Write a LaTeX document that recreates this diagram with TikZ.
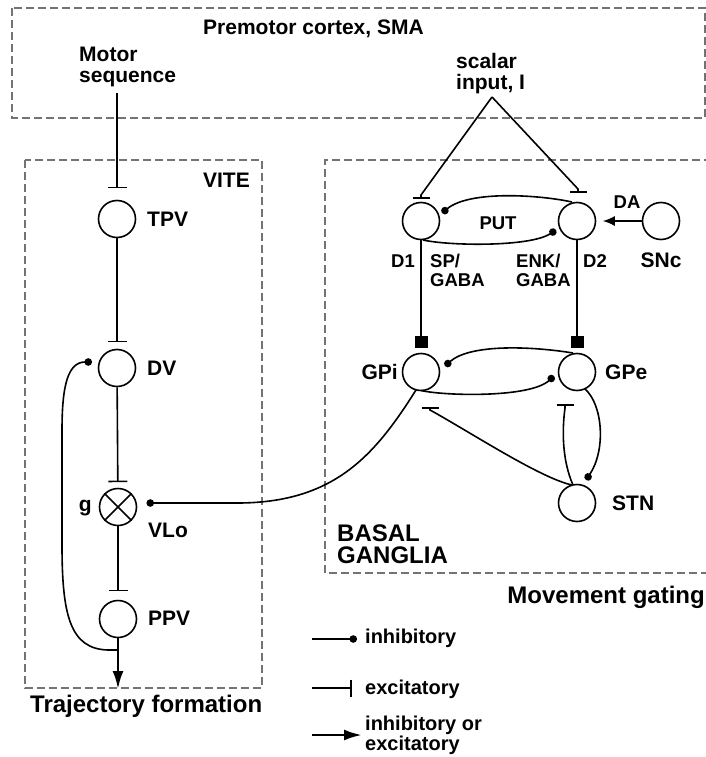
\documentclass[tikz,border=0pt]{standalone}
\usepackage{fontspec}
\setmainfont{Liberation Sans}
\usetikzlibrary{arrows.meta,calc}
\begin{document}
\begin{tikzpicture}[x=1pt,y=-1pt,
  neuron/.style={circle,draw,line width=1.6pt,minimum size=37pt,inner sep=0pt},
  lbl/.style={inner sep=0pt,font=\fontsize{21}{21}\selectfont\bfseries,align=left},
  slbl/.style={inner sep=0pt,font=\fontsize{18.5}{18.5}\selectfont\bfseries,align=left},
  ttl/.style={inner sep=0pt,font=\fontsize{24}{22}\selectfont\bfseries,align=left},
  leg/.style={inner sep=0pt,font=\fontsize{20}{20}\selectfont\bfseries,align=left},
  region/.style={draw=black!55,line width=1.5pt,dash pattern=on 8pt off 4pt},
  conn/.style={line width=1.6pt},
  exc/.style={conn,-{Bar[width=19pt,line width=1.6pt]}},
  excs/.style={conn,-{Bar[width=17pt,line width=1.6pt]}},
  inh/.style={conn,-{Circle[length=7.5pt]}},
  sqr/.style={conn,-{Square[length=12pt,width=13pt]}},
  arr/.style={line width=2.6pt,-{Latex[length=18pt,width=11pt]}},
]
\useasboundingbox (0,0) rectangle (706,757);

% regions
\draw[region] (12,8) rectangle (705,118);
\draw[region] (25,160) rectangle (262,688);
\draw[region] (712,160) -- (325,160) -- (325,573) -- (712,573);

% neurons
\node[neuron] (TPV) at (117,219) {};
\node[neuron] (DV) at (117,368) {};
\node[neuron] (VLo) at (118,507) {};
\node[neuron] (PPV) at (118,619) {};
\node[neuron] (D1) at (421,221) {};
\node[neuron] (D2) at (577,221) {};
\node[neuron] (SNc) at (661,221) {};
\node[neuron] (GPi) at (421,372) {};
\node[neuron] (GPe) at (577,372) {};
\node[neuron] (STN) at (577,503) {};
\draw[line width=1.6pt] (VLo.45) -- (VLo.225) (VLo.135) -- (VLo.315);

% labels
\node[lbl,anchor=north west] (tpremotor) at (203,20) {Premotor cortex, SMA};
\node[lbl,anchor=north west] (tmotor) at (79,47) {Motor\\sequence};
\node[lbl,anchor=north west] (tscalar) at (456,53) {scalar\\input, I};
\node[lbl,anchor=east] (tvite) at (250,180) {VITE};
\node[lbl,anchor=west] (ttpv) at (147,219) {TPV};
\node[lbl,anchor=west] (tdv) at (147,368) {DV};
\node[lbl,anchor=base east] (tg) at (92,511) {g};
\node[lbl,anchor=west] (tvlo) at (148,530) {VLo};
\node[lbl,anchor=west] (tppv) at (148,618) {PPV};
\node[ttl,anchor=base west] (ttraj) at (30,712) {Trajectory formation};
\node[slbl] (tput) at (498,223) {PUT};
\node[slbl] (tda) at (627,202) {DA};
\node[lbl] (tsnc) at (661,260) {SNc};
\node[slbl] (td1) at (403,261) {D1};
\node[slbl,anchor=north west] (tsp) at (430,254) {SP/\\GABA};
\node[slbl,anchor=north west] (tenk) at (516,254) {ENK/\\GABA};
\node[slbl,anchor=west] (td2) at (583,261) {D2};
\node[lbl,anchor=east] (tgpi) at (398,372) {GPi};
\node[lbl,anchor=west] (tgpe) at (605,372) {GPe};
\node[lbl,anchor=west] (tstn) at (612,503) {STN};
\node[ttl,anchor=north west] (tbg) at (337,525) {BASAL\\GANGLIA};
\node[ttl,anchor=base east] (tmove) at (705,603) {Movement gating};

% VITE chain
\coordinate (ms) at (117,93);
\draw[exc,shorten >=11.5pt] (ms) -- (TPV);
\draw[exc,shorten >=6.5pt] (TPV) -- (DV);
\draw[exc,shorten >=5.5pt] (DV) -- (VLo);
\draw[exc,shorten >=8.5pt] (VLo) -- (PPV);
\coordinate (out) at (118,689);
\draw[arr] (PPV) -- (out);
\coordinate (fb) at (118,650);
\draw[inh] (fb) -- (108,650) .. controls (70,649) and (62,615) .. (62,545) -- (62,430)
  .. controls (62,385) and (68,362) .. ($(DV)+(-25,-6)$);

% scalar input
\coordinate (apex) at (492,97);
\draw[excs] (apex) -- ($(D1)+(0,-26)$) -- ($(D1)+(0,-22)$);
\draw[excs] (apex) -- ($(D2)+(1,-32)$) -- ($(D2)+(1,-28)$);

% striatum
\draw[inh] ($(D2)+(-5,-19)$) .. controls (540,195) and (470,190) .. ($(D1)+(21,-8)$);
\draw[inh] ($(D1)+(2,19)$) .. controls (450,246) and (530,247) .. ($(D2)+(-21,9)$);
\draw[conn,-{Latex[length=12pt,width=10pt]},shorten >=6.5pt] (SNc) -- (D2);
\draw[sqr,shorten >=4.5pt] (D1) -- (GPi);
\draw[sqr,shorten >=4.5pt] (D2) -- (GPe);

% pallidum / STN
\draw[inh] ($(GPe)+(-4,-19)$) .. controls (530,346) and (470,344) .. ($(GPi)+(24,-6)$);
\draw[inh] ($(GPi)+(0,18.5)$) .. controls (445,396) and (530,398) .. ($(GPe)+(-23,4)$);
\draw[inh] ($(GPe)+(8,17)$) .. controls (603,405) and (606,450) .. ($(STN)+(9,-23)$);
\draw[excs] ($(STN)+(-4,-18)$) .. controls (562,460) and (562,430) .. ($(GPe)+(-12,36)$) -- ($(GPe)+(-12,32)$);
\draw[excs] ($(STN)+(-5,-18)$) .. controls (540,478) and (470,432) .. ($(GPi)+(9,38)$) -- ($(GPi)+(9,35)$);
\draw[inh] ($(GPi)+(-5,18)$) .. controls (375,455) and (335,502) .. (240,503) -- ($(VLo)+(28.5,-4)$);

% legend
\coordinate (l1a) at (312,639); \coordinate (l1b) at (357,639);
\draw[inh] (l1a) -- (l1b);
\node[leg,anchor=base west] (tl1) at (365,643) {inhibitory};
\coordinate (l2a) at (312,688); \coordinate (l2b) at (352,688);
\draw[excs] (l2a) -- (l2b);
\node[leg,anchor=base west] (tl2) at (365,694) {excitatory};
\coordinate (l3a) at (312,735); \coordinate (l3b) at (362,735);
\draw[arr] (l3a) -- (l3b);
\node[leg,anchor=north west] (tl3) at (365,716) {inhibitory or\\excitatory};
\end{tikzpicture}
\end{document}
